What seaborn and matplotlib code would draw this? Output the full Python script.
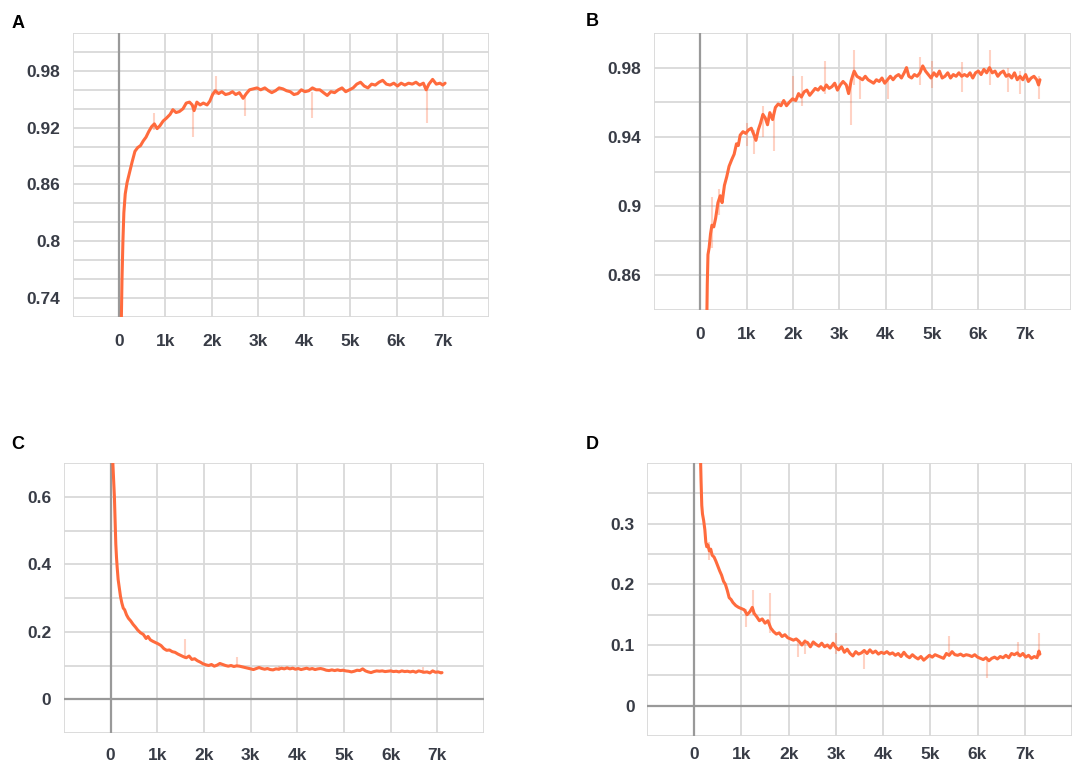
import matplotlib
matplotlib.use('Agg')
import matplotlib.pyplot as plt
import seaborn as sns
import numpy as np

# ---- panel A: accuracy (train) ----
a_steps = [40, 60, 80, 100, 130, 170, 220, 280, 340, 400, 460, 520, 580, 640, 700, 760, 820, 880,
           950, 1020, 1100, 1160, 1230, 1300, 1380, 1450, 1520, 1580, 1620, 1680, 1750, 1820, 1900,
           1960, 2020, 2080, 2150, 2220, 2300, 2380, 2450, 2520, 2600, 2680, 2750, 2820, 2900, 2980,
           3060, 3150, 3230, 3300, 3380, 3460, 3540, 3620, 3700, 3780, 3860, 3940, 4020, 4100, 4180,
           4260, 4340, 4420, 4500, 4580, 4660, 4740, 4820, 4900, 4980, 5060, 5140, 5220, 5300, 5380,
           5460, 5540, 5620, 5700, 5780, 5860, 5940, 6020, 6100, 6180, 6260, 6340, 6420, 6500, 6580,
           6640, 6700, 6780, 6860, 6940, 7000, 7050]
a_vals = [0.700, 0.760, 0.800, 0.830, 0.850, 0.862, 0.872, 0.884, 0.895, 0.899, 0.901, 0.906, 0.910,
          0.916, 0.921, 0.924, 0.919, 0.922, 0.927, 0.930, 0.934, 0.939, 0.936, 0.937, 0.940, 0.946,
          0.947, 0.944, 0.938, 0.947, 0.944, 0.946, 0.944, 0.948, 0.955, 0.959, 0.956, 0.958, 0.955,
          0.956, 0.958, 0.955, 0.957, 0.951, 0.956, 0.960, 0.961, 0.962, 0.960, 0.962, 0.959, 0.957,
          0.959, 0.962, 0.961, 0.959, 0.958, 0.955, 0.956, 0.960, 0.958, 0.959, 0.962, 0.960, 0.960,
          0.957, 0.954, 0.958, 0.957, 0.960, 0.962, 0.958, 0.960, 0.962, 0.966, 0.968, 0.964, 0.962,
          0.966, 0.965, 0.968, 0.970, 0.966, 0.965, 0.967, 0.964, 0.967, 0.965, 0.967, 0.966, 0.968,
          0.965, 0.967, 0.960, 0.966, 0.971, 0.966, 0.967, 0.965, 0.967]
a_spike_x = [760, 1600, 2100, 2720, 4180, 6650]
a_spike_lo = [0.918, 0.910, 0.955, 0.932, 0.930, 0.925]
a_spike_hi = [0.935, 0.944, 0.975, 0.955, 0.958, 0.962]

# ---- panel B: accuracy (validation) ----
b_steps = [140, 150, 165, 190, 220, 250, 290, 330, 380, 430, 470, 520, 570, 620, 680, 730, 780, 820,
           860, 920, 980, 1040, 1100, 1160, 1200, 1250, 1300, 1350, 1400, 1450, 1500, 1560, 1620,
           1680, 1740, 1800, 1860, 1920, 1990, 2060, 2120, 2180, 2240, 2300, 2360, 2420, 2480, 2540,
           2600, 2660, 2720, 2780, 2840, 2900, 2960, 3020, 3080, 3150, 3200, 3260, 3320, 3380, 3440,
           3500, 3560, 3620, 3680, 3740, 3800, 3860, 3920, 3980, 4040, 4100, 4160, 4220, 4280, 4340,
           4400, 4450, 4500, 4560, 4620, 4680, 4740, 4800, 4860, 4920, 4980, 5040, 5100, 5160, 5220,
           5280, 5340, 5400, 5460, 5520, 5580, 5640, 5700, 5760, 5820, 5880, 5940, 6000, 6060, 6120,
           6180, 6240, 6300, 6360, 6420, 6480, 6540, 6600, 6660, 6720, 6780, 6840, 6900, 6960, 7020,
           7080, 7140, 7200, 7260, 7300, 7330]
b_vals = [0.835, 0.855, 0.872, 0.876, 0.884, 0.889, 0.888, 0.893, 0.902, 0.906, 0.902, 0.912, 0.917,
          0.923, 0.927, 0.930, 0.936, 0.935, 0.941, 0.943, 0.942, 0.944, 0.945, 0.941, 0.938, 0.944,
          0.948, 0.953, 0.951, 0.947, 0.954, 0.950, 0.957, 0.959, 0.958, 0.961, 0.958, 0.960, 0.962,
          0.961, 0.965, 0.963, 0.966, 0.967, 0.964, 0.966, 0.968, 0.967, 0.969, 0.967, 0.970, 0.968,
          0.969, 0.971, 0.967, 0.970, 0.972, 0.970, 0.965, 0.973, 0.978, 0.975, 0.974, 0.973, 0.975,
          0.973, 0.972, 0.971, 0.973, 0.972, 0.974, 0.971, 0.973, 0.975, 0.973, 0.975, 0.976, 0.974,
          0.977, 0.980, 0.975, 0.974, 0.976, 0.975, 0.977, 0.981, 0.978, 0.976, 0.974, 0.977, 0.975,
          0.978, 0.974, 0.975, 0.977, 0.974, 0.976, 0.975, 0.977, 0.975, 0.976, 0.975, 0.977, 0.974,
          0.977, 0.978, 0.976, 0.979, 0.977, 0.980, 0.977, 0.978, 0.975, 0.977, 0.978, 0.975, 0.976,
          0.974, 0.977, 0.973, 0.975, 0.973, 0.976, 0.972, 0.974, 0.975, 0.973, 0.970, 0.973]
b_spike_x = [250, 400, 1000, 1150, 1350, 1600, 2000, 2200, 2700, 3250, 3320, 3450, 4050, 4750, 5000,
             5650, 6250, 6650, 6900, 7320]
b_spike_lo = [0.876, 0.895, 0.935, 0.930, 0.940, 0.932, 0.960, 0.958, 0.965, 0.947, 0.970, 0.962,
              0.962, 0.970, 0.968, 0.966, 0.970, 0.966, 0.965, 0.962]
b_spike_hi = [0.905, 0.910, 0.948, 0.944, 0.958, 0.952, 0.975, 0.975, 0.984, 0.970, 0.990, 0.975,
              0.972, 0.986, 0.984, 0.983, 0.990, 0.980, 0.978, 0.975]

# ---- panel C: loss (train) ----
c_steps = [40, 60, 80, 95, 110, 125, 140, 160, 185, 210, 240, 270, 300, 340, 380, 430, 480, 530, 580,
           640, 700, 760, 800, 850, 900, 960, 1020, 1080, 1140, 1200, 1260, 1320, 1380, 1440, 1500,
           1560, 1620, 1680, 1740, 1800, 1860, 1920, 1980, 2040, 2100, 2160, 2220, 2280, 2340, 2400,
           2460, 2520, 2580, 2640, 2700, 2760, 2820, 2880, 2940, 3000, 3060, 3120, 3180, 3240, 3300,
           3360, 3420, 3480, 3540, 3600, 3660, 3720, 3780, 3840, 3900, 3960, 4020, 4080, 4140, 4200,
           4260, 4320, 4380, 4440, 4500, 4560, 4620, 4680, 4740, 4800, 4860, 4920, 4980, 5040, 5100,
           5160, 5220, 5280, 5340, 5400, 5460, 5520, 5580, 5640, 5700, 5760, 5820, 5880, 5940, 6000,
           6060, 6120, 6180, 6240, 6300, 6360, 6420, 6480, 6540, 6600, 6660, 6720, 6780, 6840, 6900,
           6960, 7020, 7080, 7100]
c_vals = [0.720, 0.660, 0.600, 0.530, 0.460, 0.420, 0.390, 0.355, 0.330, 0.305, 0.285, 0.270, 0.265,
          0.250, 0.240, 0.232, 0.222, 0.214, 0.205, 0.197, 0.192, 0.180, 0.186, 0.176, 0.172, 0.168,
          0.164, 0.159, 0.150, 0.145, 0.146, 0.141, 0.139, 0.134, 0.130, 0.126, 0.123, 0.128, 0.118,
          0.120, 0.114, 0.110, 0.105, 0.102, 0.100, 0.103, 0.098, 0.101, 0.106, 0.103, 0.100, 0.098,
          0.100, 0.097, 0.099, 0.098, 0.096, 0.094, 0.092, 0.090, 0.088, 0.091, 0.094, 0.091, 0.089,
          0.091, 0.088, 0.087, 0.090, 0.089, 0.092, 0.090, 0.093, 0.090, 0.092, 0.089, 0.091, 0.088,
          0.090, 0.092, 0.089, 0.091, 0.088, 0.090, 0.091, 0.089, 0.086, 0.085, 0.087, 0.085, 0.087,
          0.085, 0.086, 0.084, 0.083, 0.081, 0.083, 0.086, 0.085, 0.090, 0.084, 0.081, 0.079, 0.082,
          0.084, 0.083, 0.084, 0.082, 0.083, 0.084, 0.082, 0.083, 0.081, 0.084, 0.082, 0.083, 0.081,
          0.083, 0.080, 0.084, 0.082, 0.080, 0.081, 0.078, 0.084, 0.080, 0.081, 0.078, 0.079]
c_spike_x = [1600, 2700, 3600, 6700]
c_spike_lo = [0.120, 0.095, 0.085, 0.075]
c_spike_hi = [0.180, 0.125, 0.100, 0.095]

# ---- panel D: loss (validation) ----
d_steps = [130, 145, 160, 175, 200, 225, 245, 265, 290, 320, 350, 380, 420, 460, 500, 540, 580, 620,
           660, 700, 740, 780, 820, 880, 940, 1000, 1060, 1120, 1180, 1230, 1270, 1320, 1380, 1440,
           1500, 1560, 1620, 1680, 1740, 1800, 1860, 1920, 1980, 2040, 2100, 2160, 2220, 2280, 2340,
           2400, 2460, 2520, 2580, 2640, 2700, 2760, 2820, 2880, 2940, 3000, 3060, 3120, 3180, 3240,
           3300, 3360, 3420, 3480, 3540, 3600, 3660, 3720, 3780, 3840, 3900, 3960, 4020, 4080, 4140,
           4200, 4260, 4320, 4380, 4440, 4500, 4560, 4620, 4680, 4740, 4800, 4860, 4920, 4980, 5040,
           5100, 5160, 5220, 5280, 5340, 5400, 5460, 5520, 5580, 5640, 5700, 5760, 5820, 5880, 5940,
           6000, 6060, 6120, 6180, 6240, 6300, 6360, 6420, 6480, 6540, 6600, 6660, 6720, 6780, 6840,
           6900, 6960, 7020, 7080, 7140, 7200, 7260, 7300, 7320]
d_vals = [0.420, 0.370, 0.330, 0.316, 0.305, 0.290, 0.270, 0.262, 0.265, 0.255, 0.258, 0.248, 0.245,
          0.238, 0.230, 0.222, 0.215, 0.205, 0.200, 0.190, 0.178, 0.175, 0.170, 0.165, 0.162, 0.160,
          0.158, 0.150, 0.155, 0.162, 0.152, 0.147, 0.140, 0.143, 0.136, 0.140, 0.128, 0.122, 0.118,
          0.120, 0.114, 0.117, 0.112, 0.110, 0.108, 0.110, 0.106, 0.100, 0.106, 0.104, 0.097, 0.105,
          0.101, 0.098, 0.103, 0.097, 0.100, 0.095, 0.103, 0.096, 0.092, 0.097, 0.088, 0.093, 0.086,
          0.082, 0.089, 0.085, 0.087, 0.091, 0.086, 0.092, 0.087, 0.090, 0.085, 0.088, 0.086, 0.089,
          0.085, 0.087, 0.083, 0.086, 0.081, 0.088, 0.082, 0.079, 0.084, 0.080, 0.077, 0.081, 0.075,
          0.079, 0.083, 0.080, 0.084, 0.082, 0.080, 0.078, 0.086, 0.083, 0.089, 0.084, 0.083, 0.085,
          0.082, 0.084, 0.083, 0.081, 0.084, 0.080, 0.078, 0.076, 0.079, 0.074, 0.078, 0.080, 0.077,
          0.081, 0.079, 0.083, 0.079, 0.086, 0.084, 0.087, 0.082, 0.086, 0.080, 0.083, 0.078, 0.081,
          0.079, 0.090, 0.085]
d_spike_x = [320, 1100, 1250, 1600, 2200, 2350, 3000, 3600, 5400, 6200, 6850, 7300]
d_spike_lo = [0.240, 0.130, 0.150, 0.120, 0.080, 0.085, 0.085, 0.060, 0.080, 0.045, 0.080, 0.080]
d_spike_hi = [0.270, 0.160, 0.190, 0.185, 0.110, 0.110, 0.120, 0.090, 0.115, 0.075, 0.105, 0.120]

x_major = [0, 1000, 2000, 3000, 4000, 5000, 6000, 7000]
x_labels = ['0', '1k', '2k', '3k', '4k', '5k', '6k', '7k']

panels = [
    dict(letter='A', steps=a_steps, vals=a_vals, sx=a_spike_x, slo=a_spike_lo, shi=a_spike_hi,
         ylim=(0.72, 1.02), yticks=[0.74, 0.80, 0.86, 0.92, 0.98], ylabels=['0.74', '0.8', '0.86', '0.92', '0.98'],
         yminor=[0.72, 0.76, 0.78, 0.82, 0.84, 0.88, 0.90, 0.94, 0.96, 1.00, 1.02],
         rect=[73, 33, 489, 317], lpos=(18, 23), xpad=7),
    dict(letter='B', steps=b_steps, vals=b_vals, sx=b_spike_x, slo=b_spike_lo, shi=b_spike_hi,
         ylim=(0.84, 1.0), yticks=[0.86, 0.90, 0.94, 0.98], ylabels=['0.86', '0.9', '0.94', '0.98'],
         yminor=[0.84, 0.88, 0.92, 0.96, 1.0],
         rect=[654, 33, 1071, 310], lpos=(592, 22), xpad=7),
    dict(letter='C', steps=c_steps, vals=c_vals, sx=c_spike_x, slo=c_spike_lo, shi=c_spike_hi,
         ylim=(-0.1, 0.7), yticks=[0, 0.2, 0.4, 0.6], ylabels=['0', '0.2', '0.4', '0.6'],
         yminor=[-0.1, 0.1, 0.3, 0.5, 0.7],
         rect=[64, 463, 484, 733], lpos=(18, 444), xpad=6),
    dict(letter='D', steps=d_steps, vals=d_vals, sx=d_spike_x, slo=d_spike_lo, shi=d_spike_hi,
         ylim=(-0.05, 0.4), yticks=[0, 0.1, 0.2, 0.3], ylabels=['0', '0.1', '0.2', '0.3'],
         yminor=[-0.05, 0.05, 0.15, 0.25, 0.35, 0.4],
         rect=[647, 463, 1072, 736], lpos=(592, 444), xpad=3),
]

sns.set_style('white')
plt.rcParams['font.family'] = ['Liberation Sans', 'DejaVu Sans']

W, H = 1082, 765
fig = plt.figure(figsize=(W / 100, H / 100), dpi=100)

line_color = '#FF6B3D'
grid_color = '#d9d9d9'
zero_color = '#999999'
text_color = '#383c46'

for p in panels:
    x0, y0, x1, y1 = p['rect']
    ax = fig.add_axes([x0 / W, 1 - y1 / H, (x1 - x0) / W, (y1 - y0) / H])
    ax.set_xlim(-1000, 8000)
    ax.set_ylim(*p['ylim'])

    # faint raw spikes behind smoothed curve
    ax.vlines(p['sx'], p['slo'], p['shi'], color=line_color, alpha=0.3, linewidth=1.5, zorder=2)
    sns.lineplot(x=p['steps'], y=p['vals'], ax=ax, color=line_color, linewidth=2.2, zorder=3)

    ax.axvline(0, color=zero_color, linewidth=1.6, zorder=1)
    if p['ylim'][0] < 0:
        ax.axhline(0, color=zero_color, linewidth=1.6, zorder=1)

    ax.set_xticks(x_major)
    ax.set_xticklabels(x_labels)
    ax.set_xticks([-1000, 8000], minor=True)
    ax.set_yticks(p['yticks'])
    ax.set_yticklabels(p['ylabels'])
    ax.set_yticks(p['yminor'], minor=True)
    ax.grid(True, which='both', color=grid_color, linewidth=1.3, zorder=0)
    ax.set_axisbelow(True)
    for s in ax.spines.values():
        s.set_visible(False)
    ax.tick_params(which='both', direction='out', length=5, width=1.2, color=grid_color,
                   labelcolor=text_color, labelsize=12.5)
    ax.tick_params(axis='x', pad=p['xpad'])
    ax.tick_params(axis='y', pad=4)
    for lab in ax.get_xticklabels() + ax.get_yticklabels():
        lab.set_fontweight('bold')

    fig.text(p['lpos'][0] / W, 1 - p['lpos'][1] / H, p['letter'], ha='center', va='center',
             fontsize=13, fontweight='bold', color='black')

fig.savefig('out.png', dpi=100)
